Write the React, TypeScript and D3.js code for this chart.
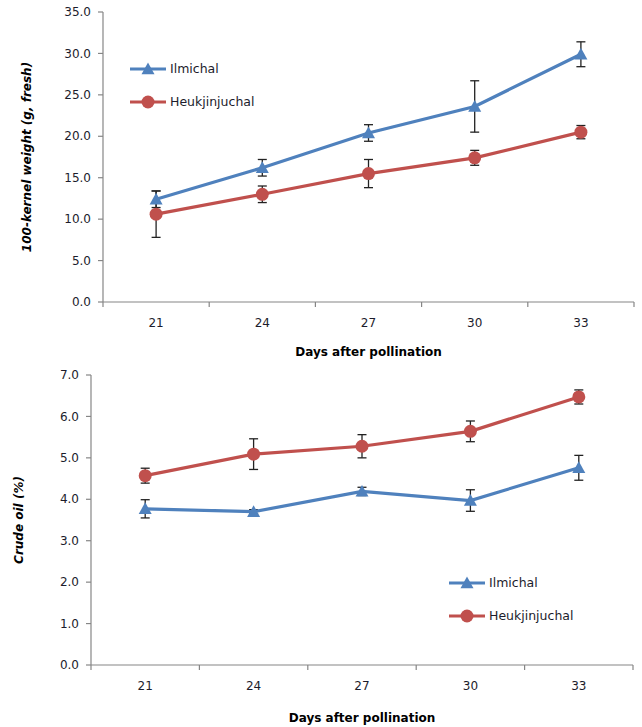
import * as d3 from 'd3';

const days = ['21', '24', '27', '30', '33'];

const weightIlmichal = [12.4, 16.2, 20.4, 23.6, 29.9];
const weightIlmichalErr = [1.0, 1.0, 1.0, 3.1, 1.5];
const weightHeuk = [10.6, 13.0, 15.5, 17.4, 20.5];
const weightHeukErr = [2.8, 1.0, 1.7, 0.9, 0.8];
const weightTicks = [0, 5, 10, 15, 20, 25, 30, 35];

const oilIlmichal = [3.77, 3.70, 4.19, 3.97, 4.76];
const oilIlmichalErr = [0.22, 0.05, 0.1, 0.26, 0.3];
const oilHeuk = [4.57, 5.09, 5.28, 5.64, 6.47];
const oilHeukErr = [0.18, 0.37, 0.28, 0.25, 0.17];
const oilTicks = [0, 1, 2, 3, 4, 5, 6, 7];

const BLUE = '#4F81BD';
const RED = '#C0504D';
const AXIS = '#868686';
const FONT = 'DejaVu Sans, Verdana, sans-serif';

type Series = { name: string; values: number[]; err: number[]; color: string; marker: 'tri' | 'circ' };

function Marker({ kind, x, y, color }: { kind: 'tri' | 'circ'; x: number; y: number; color: string }) {
  if (kind === 'circ') return <circle cx={x} cy={y} r={6.5} fill={color} />;
  const s = 6.5;
  return <path d={`M${x},${y - s}L${x + s},${y + s * 0.8}L${x - s},${y + s * 0.8}Z`} fill={color} />;
}

type PanelProps = {
  top: number;
  left: number;
  right: number;
  height: number;
  yMax: number;
  ticks: number[];
  series: Series[];
  yLabel: string;
  yLabelX: number;
  legendX: number;
  legendY: number;
  xLabelY: number;
};

function Panel({ top, left, right, height, yMax, ticks, series, yLabel, yLabelX, legendX, legendY, xLabelY }: PanelProps) {
  const x = d3.scaleBand<string>().domain(days).range([left, right]);
  const y = d3.scaleLinear().domain([0, yMax]).range([top + height, top]);
  const cx = (d: string) => (x(d) ?? 0) + x.bandwidth() / 2;
  const base = top + height;
  const line = d3
    .line<number>()
    .x((_, i) => cx(days[i]))
    .y((v) => y(v));
  const bounds = [left, ...days.map((d) => (x(d) ?? 0) + x.bandwidth())];

  return (
    <g fontFamily={FONT}>
      {/* axes */}
      <line x1={left} x2={left} y1={top} y2={base} stroke={AXIS} strokeWidth={1.2} />
      <line x1={left} x2={right} y1={base} y2={base} stroke={AXIS} strokeWidth={1.2} />
      {ticks.map((t) => (
        <g key={t}>
          <line x1={left - 5} x2={left} y1={y(t)} y2={y(t)} stroke={AXIS} strokeWidth={1.2} />
          <text x={left - 12} y={y(t)} dy="0.35em" textAnchor="end" fontSize={12} fill="#1c1c2c">
            {t.toFixed(1)}
          </text>
        </g>
      ))}
      {bounds.map((b, i) => (
        <line key={i} x1={b} x2={b} y1={base} y2={base + 5} stroke={AXIS} strokeWidth={1.2} />
      ))}
      {days.map((d) => (
        <text key={d} x={cx(d)} y={base + 25} textAnchor="middle" fontSize={12} fill="#1c1c2c">
          {d}
        </text>
      ))}
      <text x={(left + right) / 2} y={xLabelY} textAnchor="middle" fontSize={12} fontWeight="bold" fill="#000">
        Days after pollination
      </text>
      <text
        transform={`translate(${yLabelX},${top + height / 2}) rotate(-90)`}
        textAnchor="middle"
        fontSize={12}
        fontWeight="bold"
        fontStyle="italic"
        fill="#000"
      >
        {yLabel}
      </text>

      {/* error bars below lines and markers */}
      {series.map((s) => (
        <g key={s.name + '-err'} stroke="#222" strokeWidth={1.3}>
          {s.values.map((v, i) => {
            const px = cx(days[i]);
            const y1 = y(v + s.err[i]);
            const y2 = y(v - s.err[i]);
            return (
              <g key={i}>
                <line x1={px} x2={px} y1={y1} y2={y2} />
                <line x1={px - 4.5} x2={px + 4.5} y1={y1} y2={y1} />
                <line x1={px - 4.5} x2={px + 4.5} y1={y2} y2={y2} />
              </g>
            );
          })}
        </g>
      ))}

      {/* series */}
      {series.map((s) => (
        <g key={s.name}>
          <path d={line(s.values) ?? ''} fill="none" stroke={s.color} strokeWidth={3.2} />
          {s.values.map((v, i) => (
            <Marker key={i} kind={s.marker} x={cx(days[i])} y={y(v)} color={s.color} />
          ))}
        </g>
      ))}

      {/* legend */}
      {series.map((s, i) => {
        const ly = legendY + i * 33;
        return (
          <g key={s.name + '-leg'}>
            <line x1={legendX} x2={legendX + 36} y1={ly} y2={ly} stroke={s.color} strokeWidth={3.2} />
            <Marker kind={s.marker} x={legendX + 18} y={ly} color={s.color} />
            <text x={legendX + 40} y={ly} dy="0.35em" fontSize={12.5} fill="#1c1c2c">
              {s.name}
            </text>
          </g>
        );
      })}
    </g>
  );
}

export default function App() {
  const weightSeries: Series[] = [
    { name: 'Ilmichal', values: weightIlmichal, err: weightIlmichalErr, color: BLUE, marker: 'tri' },
    { name: 'Heukjinjuchal', values: weightHeuk, err: weightHeukErr, color: RED, marker: 'circ' },
  ];
  const oilSeries: Series[] = [
    { name: 'Ilmichal', values: oilIlmichal, err: oilIlmichalErr, color: BLUE, marker: 'tri' },
    { name: 'Heukjinjuchal', values: oilHeuk, err: oilHeukErr, color: RED, marker: 'circ' },
  ];
  return (
    <svg width={642} height={727} style={{ position: 'absolute', left: 0, top: 0, background: '#fff' }}>
      <rect width={642} height={727} fill="#fff" />
      <Panel
        top={12}
        left={103}
        right={634}
        height={290}
        yMax={35}
        ticks={weightTicks}
        series={weightSeries}
        yLabel="100-kernel weight (g, fresh)"
        yLabelX={31}
        legendX={130}
        legendY={69}
        xLabelY={356}
      />
      <Panel
        top={375}
        left={91}
        right={633}
        height={290}
        yMax={7}
        ticks={oilTicks}
        series={oilSeries}
        yLabel="Crude oil (%)"
        yLabelX={23}
        legendX={449}
        legendY={583}
        xLabelY={722}
      />
    </svg>
  );
}
